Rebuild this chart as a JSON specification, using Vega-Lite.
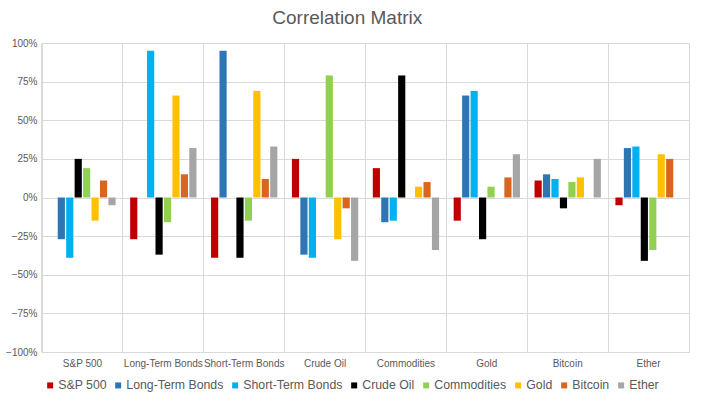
{
  "$schema": "https://vega.github.io/schema/vega-lite/v6.json",
  "width": 647,
  "height": 309,
  "padding": {"left": 5, "top": 9, "right": 10, "bottom": 5},
  "background": "white",
  "title": {"text": "Correlation Matrix", "fontSize": 19, "font": "Liberation Sans", "fontWeight": "normal", "color": "#595959", "offset": 10, "frame": "bounds", "anchor": "middle"},
  "datasets": {
    "corr": [
      {"asset": "S&P 500", "series": "Long-Term Bonds", "value": -0.27},
      {"asset": "S&P 500", "series": "Short-Term Bonds", "value": -0.39},
      {"asset": "S&P 500", "series": "Crude Oil", "value": 0.25},
      {"asset": "S&P 500", "series": "Commodities", "value": 0.19},
      {"asset": "S&P 500", "series": "Gold", "value": -0.15},
      {"asset": "S&P 500", "series": "Bitcoin", "value": 0.11},
      {"asset": "S&P 500", "series": "Ether", "value": -0.05},
      {"asset": "Long-Term Bonds", "series": "S&P 500", "value": -0.27},
      {"asset": "Long-Term Bonds", "series": "Short-Term Bonds", "value": 0.95},
      {"asset": "Long-Term Bonds", "series": "Crude Oil", "value": -0.37},
      {"asset": "Long-Term Bonds", "series": "Commodities", "value": -0.16},
      {"asset": "Long-Term Bonds", "series": "Gold", "value": 0.66},
      {"asset": "Long-Term Bonds", "series": "Bitcoin", "value": 0.15},
      {"asset": "Long-Term Bonds", "series": "Ether", "value": 0.32},
      {"asset": "Short-Term Bonds", "series": "S&P 500", "value": -0.39},
      {"asset": "Short-Term Bonds", "series": "Long-Term Bonds", "value": 0.95},
      {"asset": "Short-Term Bonds", "series": "Crude Oil", "value": -0.39},
      {"asset": "Short-Term Bonds", "series": "Commodities", "value": -0.15},
      {"asset": "Short-Term Bonds", "series": "Gold", "value": 0.69},
      {"asset": "Short-Term Bonds", "series": "Bitcoin", "value": 0.12},
      {"asset": "Short-Term Bonds", "series": "Ether", "value": 0.33},
      {"asset": "Crude Oil", "series": "S&P 500", "value": 0.25},
      {"asset": "Crude Oil", "series": "Long-Term Bonds", "value": -0.37},
      {"asset": "Crude Oil", "series": "Short-Term Bonds", "value": -0.39},
      {"asset": "Crude Oil", "series": "Commodities", "value": 0.79},
      {"asset": "Crude Oil", "series": "Gold", "value": -0.27},
      {"asset": "Crude Oil", "series": "Bitcoin", "value": -0.07},
      {"asset": "Crude Oil", "series": "Ether", "value": -0.41},
      {"asset": "Commodities", "series": "S&P 500", "value": 0.19},
      {"asset": "Commodities", "series": "Long-Term Bonds", "value": -0.16},
      {"asset": "Commodities", "series": "Short-Term Bonds", "value": -0.15},
      {"asset": "Commodities", "series": "Crude Oil", "value": 0.79},
      {"asset": "Commodities", "series": "Gold", "value": 0.07},
      {"asset": "Commodities", "series": "Bitcoin", "value": 0.10},
      {"asset": "Commodities", "series": "Ether", "value": -0.34},
      {"asset": "Gold", "series": "S&P 500", "value": -0.15},
      {"asset": "Gold", "series": "Long-Term Bonds", "value": 0.66},
      {"asset": "Gold", "series": "Short-Term Bonds", "value": 0.69},
      {"asset": "Gold", "series": "Crude Oil", "value": -0.27},
      {"asset": "Gold", "series": "Commodities", "value": 0.07},
      {"asset": "Gold", "series": "Bitcoin", "value": 0.13},
      {"asset": "Gold", "series": "Ether", "value": 0.28},
      {"asset": "Bitcoin", "series": "S&P 500", "value": 0.11},
      {"asset": "Bitcoin", "series": "Long-Term Bonds", "value": 0.15},
      {"asset": "Bitcoin", "series": "Short-Term Bonds", "value": 0.12},
      {"asset": "Bitcoin", "series": "Crude Oil", "value": -0.07},
      {"asset": "Bitcoin", "series": "Commodities", "value": 0.10},
      {"asset": "Bitcoin", "series": "Gold", "value": 0.13},
      {"asset": "Bitcoin", "series": "Ether", "value": 0.25},
      {"asset": "Ether", "series": "S&P 500", "value": -0.05},
      {"asset": "Ether", "series": "Long-Term Bonds", "value": 0.32},
      {"asset": "Ether", "series": "Short-Term Bonds", "value": 0.33},
      {"asset": "Ether", "series": "Crude Oil", "value": -0.41},
      {"asset": "Ether", "series": "Commodities", "value": -0.34},
      {"asset": "Ether", "series": "Gold", "value": 0.28},
      {"asset": "Ether", "series": "Bitcoin", "value": 0.25}
    ]
  },
  "data": {"name": "corr"},
  "config": {
    "font": "Liberation Sans",
    "view": {"stroke": "#D9D9D9", "strokeWidth": 1}
  },
  "mark": {"type": "bar"},
  "encoding": {
    "x": {
      "field": "asset", "type": "nominal",
      "scale": {"domain": ["S&P 500", "Long-Term Bonds", "Short-Term Bonds", "Crude Oil", "Commodities", "Gold", "Bitcoin", "Ether"], "paddingInner": 0.18, "paddingOuter": 0.09},
      "axis": {"title": null, "labelAngle": 0, "labelFontSize": 10, "labelColor": "#595959", "domain": false, "ticks": false, "grid": true, "bandPosition": -0.1098, "gridColor": "#D9D9D9", "labelPadding": 6}
    },
    "xOffset": {
      "field": "series", "type": "nominal",
      "scale": {"domain": ["S&P 500", "Long-Term Bonds", "Short-Term Bonds", "Crude Oil", "Commodities", "Gold", "Bitcoin", "Ether"], "paddingInner": 0.15}
    },
    "y": {
      "field": "value", "type": "quantitative",
      "scale": {"domain": [-1, 1], "nice": false},
      "axis": {"title": null, "format": ".0%", "values": [-1, -0.75, -0.5, -0.25, 0, 0.25, 0.5, 0.75, 1], "labelFontSize": 10, "labelColor": "#595959", "domain": false, "ticks": false, "gridColor": "#D9D9D9", "labelPadding": 5}
    },
    "color": {
      "field": "series", "type": "nominal",
      "scale": {"domain": ["S&P 500", "Long-Term Bonds", "Short-Term Bonds", "Crude Oil", "Commodities", "Gold", "Bitcoin", "Ether"], "range": ["#C00000", "#2E75B6", "#00B0F0", "#000000", "#92D050", "#FFC000", "#D9661F", "#A5A5A5"]},
      "legend": {"title": null, "orient": "none", "legendX": 2, "legendY": 336, "direction": "horizontal", "symbolType": "square", "symbolSize": 36, "symbolStrokeWidth": 0, "labelFontSize": 12.3, "labelColor": "#595959", "columnPadding": 5, "labelOffset": 2}
    }
  }
}
